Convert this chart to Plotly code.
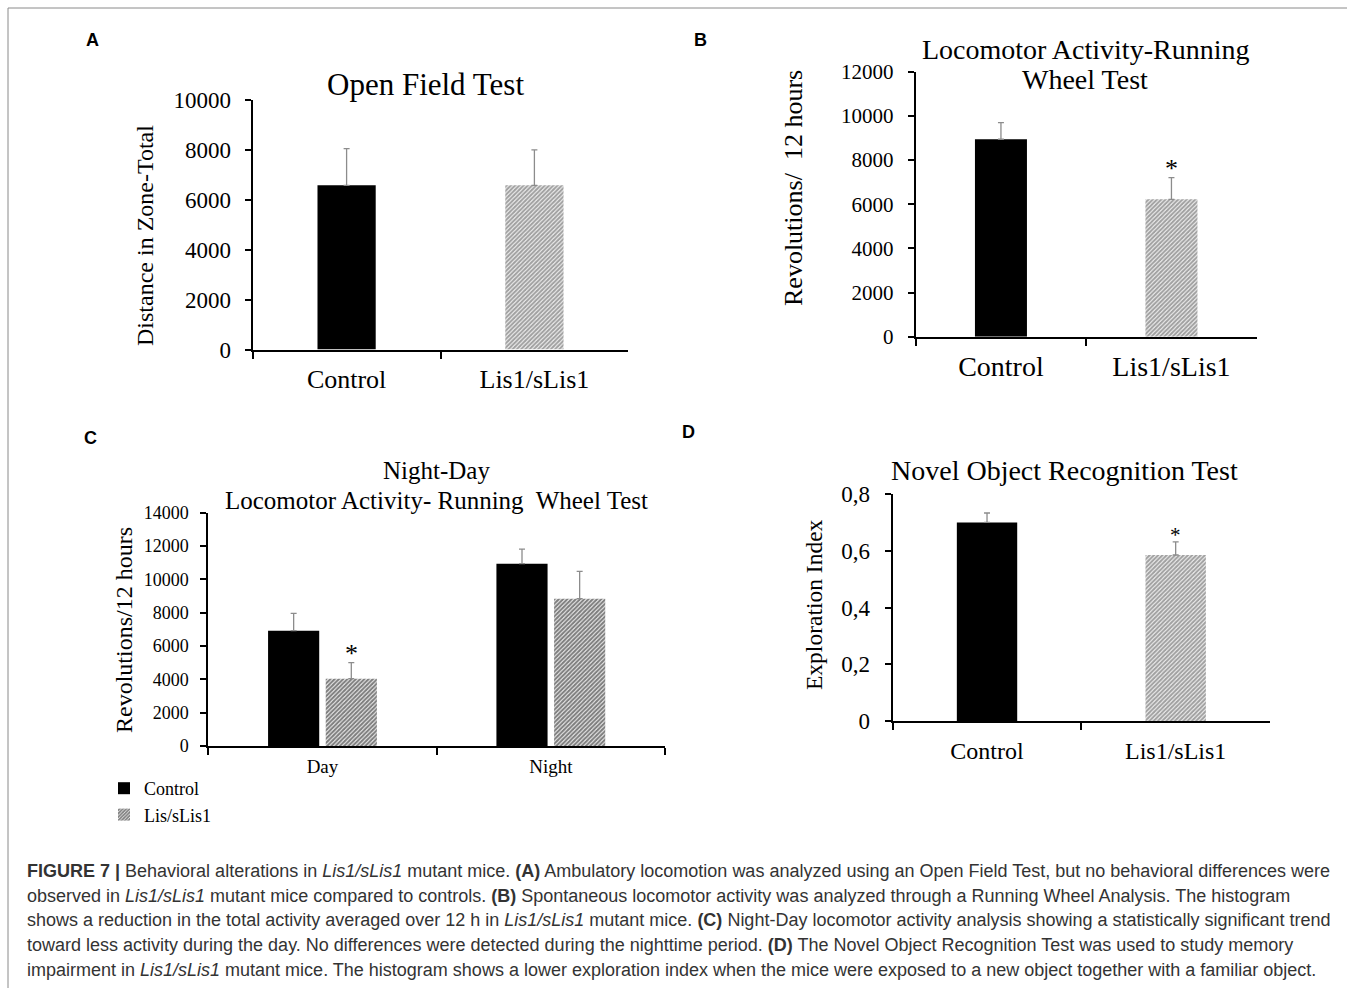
import plotly.graph_objects as go

W, H = 1355, 988
SERIF = "Liberation Serif"
SANS = "Liberation Sans"

# ---------------- data ----------------
# Panel A: Open Field Test
a_groups = ["Control", "Lis1/sLis1"]
a_means = [6580, 6580]
a_err = [1470, 1420]
a_ticks = [0, 2000, 4000, 6000, 8000, 10000]

# Panel B: Locomotor Activity - Running Wheel Test
b_groups = ["Control", "Lis1/sLis1"]
b_means = [8940, 6220]
b_err = [750, 980]
b_sig = [False, True]
b_ticks = [0, 2000, 4000, 6000, 8000, 10000, 12000]

# Panel C: Night-Day running wheel
c_periods = ["Day", "Night"]
c_control = [6920, 10940]
c_control_err = [1040, 880]
c_lis = [4040, 8840]
c_lis_err = [960, 1640]
c_lis_sig = [True, False]
c_ticks = [0, 2000, 4000, 6000, 8000, 10000, 12000, 14000]

# Panel D: Novel Object Recognition Test
d_groups = ["Control", "Lis1/sLis1"]
d_means = [0.700, 0.585]
d_err = [0.033, 0.046]
d_sig = [False, True]
d_tickvals = [0, 0.2, 0.4, 0.6, 0.8]
d_ticktext = ["0", "0,2", "0,4", "0,6", "0,8"]

caption_lines = [
    "<b>FIGURE 7 |</b> Behavioral alterations in <i>Lis1/sLis1</i> mutant mice. <b>(A)</b> Ambulatory locomotion was analyzed using an Open Field Test, but no behavioral differences were",
    "observed in <i>Lis1/sLis1</i> mutant mice compared to controls. <b>(B)</b> Spontaneous locomotor activity was analyzed through a Running Wheel Analysis. The histogram",
    "shows a reduction in the total activity averaged over 12 h in <i>Lis1/sLis1</i> mutant mice. <b>(C)</b> Night-Day locomotor activity analysis showing a statistically significant trend",
    "toward less activity during the day. No differences were detected during the nighttime period. <b>(D)</b> The Novel Object Recognition Test was used to study memory",
    "impairment in <i>Lis1/sLis1</i> mutant mice. The histogram shows a lower exploration index when the mice were exposed to a new object together with a familiar object.",
]

# ---------------- helpers ----------------
def px(x):
    return x / W

def py(y):
    return 1 - y / H

BLACK = "black"
HATCH_FG = "#000000"
HATCH_SIZE = 3
HATCH_SOLIDITY = 0.72
HATCH = dict(shape="/", fgcolor=HATCH_FG, bgcolor="white", size=HATCH_SIZE, solidity=HATCH_SOLIDITY)
ERR_COLOR = "#8c8c8c"
BARGAP = 0.495
BARGROUPGAP = 0.113

def err(arr):
    return dict(type="data", array=arr, arrayminus=[0] * len(arr), symmetric=False,
                color=ERR_COLOR, thickness=1.3, width=3)

def two_bar_marker():
    return dict(color=[BLACK, "white"], line=dict(width=0),
                pattern=dict(shape=["", "/"], fgcolor=HATCH_FG, bgcolor=[BLACK, "white"],
                             size=HATCH_SIZE, solidity=HATCH_SOLIDITY))

fig = go.Figure()

# Panel A
fig.add_trace(go.Bar(x=a_groups, y=a_means, error_y=err(a_err), width=0.31,
                     marker=two_bar_marker(), xaxis="x", yaxis="y", showlegend=False))
# Panel B
fig.add_trace(go.Bar(x=b_groups, y=b_means, error_y=err(b_err), width=0.305,
                     marker=two_bar_marker(), xaxis="x2", yaxis="y2", showlegend=False))
# Panel C
fig.add_trace(go.Bar(x=c_periods, y=c_control, error_y=err(c_control_err), name="Control",
                     marker=dict(color=BLACK, line=dict(width=0)),
                     xaxis="x3", yaxis="y3", showlegend=True))
fig.add_trace(go.Bar(x=c_periods, y=c_lis, error_y=err(c_lis_err), name="Lis/sLis1",
                     marker=dict(color="white", line=dict(width=0), pattern=HATCH),
                     xaxis="x3", yaxis="y3", showlegend=True))
# Panel D
fig.add_trace(go.Bar(x=d_groups, y=d_means, error_y=err(d_err), width=0.32,
                     marker=two_bar_marker(), xaxis="x4", yaxis="y4", showlegend=False))


def xax(domain, anchor, fs, standoff):
    return dict(domain=domain, anchor=anchor, type="category", range=[-0.5, 1.5],
                showline=True, linecolor=BLACK, linewidth=2, ticks="outside", ticklen=7,
                tickwidth=2, tickcolor=BLACK, tickson="boundaries", showgrid=False,
                zeroline=False, tickfont=dict(family=SERIF, size=fs, color=BLACK),
                ticklabelstandoff=standoff, fixedrange=True, automargin=False)


def yax(domain, anchor, rng, tickvals, ticktext, fs, standoff):
    return dict(domain=domain, anchor=anchor, range=rng, tickvals=tickvals, ticktext=ticktext,
                showline=True, linecolor=BLACK, linewidth=2, ticks="outside", ticklen=6,
                tickwidth=2, tickcolor=BLACK, showgrid=False, zeroline=False,
                tickfont=dict(family=SERIF, size=fs, color=BLACK),
                ticklabelstandoff=standoff, fixedrange=True, automargin=False)


layout = dict(
    width=W, height=H, autosize=False, margin=dict(l=0, r=0, t=0, b=0, pad=0),
    paper_bgcolor="white", plot_bgcolor="white",
    barmode="group", bargap=BARGAP, bargroupgap=BARGROUPGAP,
    xaxis=xax([px(252.7), px(628.3)], "y", 26, 5),
    yaxis=yax([py(349.5), py(100)], "x", [0, a_ticks[-1]], a_ticks, [str(t) for t in a_ticks], 23, 9),
    xaxis2=xax([px(915.7), px(1256.7)], "y2", 28, 4),
    yaxis2=yax([py(336.7), py(71.7)], "x2", [0, b_ticks[-1]], b_ticks, [str(t) for t in b_ticks], 21, 10),
    xaxis3=xax([px(208.3), px(665)], "y3", 19, 2),
    yaxis3=yax([py(746), py(512.7)], "x3", [0, c_ticks[-1]], c_ticks, [str(t) for t in c_ticks], 18, 8),
    xaxis4=xax([px(892.7), px(1270)], "y4", 24, 7),
    yaxis4=yax([py(721), py(494)], "x4", [0, d_tickvals[-1]], d_tickvals, d_ticktext, 23, 10),
    legend=dict(x=px(104), y=py(770), xanchor="left", yanchor="top",
                font=dict(family=SERIF, size=18, color=BLACK), bgcolor="rgba(0,0,0,0)",
                tracegroupgap=0, itemwidth=30),
    showlegend=True,
)
fig.update_layout(**layout)

ann = []

def text_ann(x, y, text, size, family=SERIF, angle=0, xanchor="center", color=BLACK):
    ann.append(dict(x=px(x), y=py(y), xref="paper", yref="paper", text=text, showarrow=False,
                    textangle=angle, xanchor=xanchor, yanchor="middle",
                    font=dict(family=family, size=size, color=color)))

# Titles
text_ann(425, 85, "Open Field Test", 31)
text_ann(1085, 50, "Locomotor Activity-Running", 28)
text_ann(1085, 80, "Wheel Test", 28)
text_ann(436, 471, "Night-Day", 25)
text_ann(436, 500, "Locomotor Activity- Running  Wheel Test", 25)
text_ann(1064, 470, "Novel Object Recognition Test", 28)

# Y-axis titles
text_ann(145, 236, "Distance in Zone-Total", 24, angle=-90)
text_ann(793, 188, "Revolutions/  12 hours", 26, angle=-90)
text_ann(124, 630, "Revolutions/12 hours", 24, angle=-90)
text_ann(814, 605, "Exploration Index", 23.5, angle=-90)

# Panel letters
for lx, ly, letter in [(92, 40, "A"), (700, 40, "B"), (90, 438, "C"), (688, 432, "D")]:
    text_ann(lx, ly, "<b>" + letter + "</b>", 18, family=SANS)

# Significance asterisks (data coordinates)
STAR_SHIFT = -7
for i, s in enumerate(b_sig):
    if s:
        ann.append(dict(x=b_groups[i], y=b_means[i] + b_err[i], xref="x2", yref="y2", text="*",
                        showarrow=False, yanchor="bottom", yshift=STAR_SHIFT,
                        font=dict(family=SERIF, size=26, color=BLACK)))
for i, s in enumerate(c_lis_sig):
    if s:
        ann.append(dict(x=i + (1 - BARGAP) / 4, y=c_lis[i] + c_lis_err[i], xref="x3", yref="y3", text="*",
                        showarrow=False, yanchor="bottom", yshift=STAR_SHIFT,
                        font=dict(family=SERIF, size=26, color=BLACK)))
for i, s in enumerate(d_sig):
    if s:
        ann.append(dict(x=d_groups[i], y=d_means[i] + d_err[i], xref="x4", yref="y4", text="*",
                        showarrow=False, yanchor="bottom", yshift=STAR_SHIFT,
                        font=dict(family=SERIF, size=21, color=BLACK)))

# Caption
cap_y = [871, 896, 920, 945, 970]
for line, yy in zip(caption_lines, cap_y):
    text_ann(25, yy, line, 18, family=SANS, xanchor="left", color="#333333")

fig.update_layout(annotations=ann)

# frame lines (top and left)
fig.update_layout(shapes=[
    dict(type="line", xref="paper", yref="paper", x0=px(8), x1=px(1347), y0=py(8), y1=py(8),
         line=dict(color="#8a8a8a", width=1)),
    dict(type="line", xref="paper", yref="paper", x0=px(8), x1=px(8), y0=py(8), y1=0,
         line=dict(color="#8a8a8a", width=1)),
])

fig.write_html(
    "out.html",
    config=dict(displayModeBar=False),
    post_script=(
        "document.body.style.margin='0';"
        "document.body.style.padding='0';"
        "document.body.style.overflow='hidden';"
        "document.documentElement.style.overflow='hidden';"
    ),
)
